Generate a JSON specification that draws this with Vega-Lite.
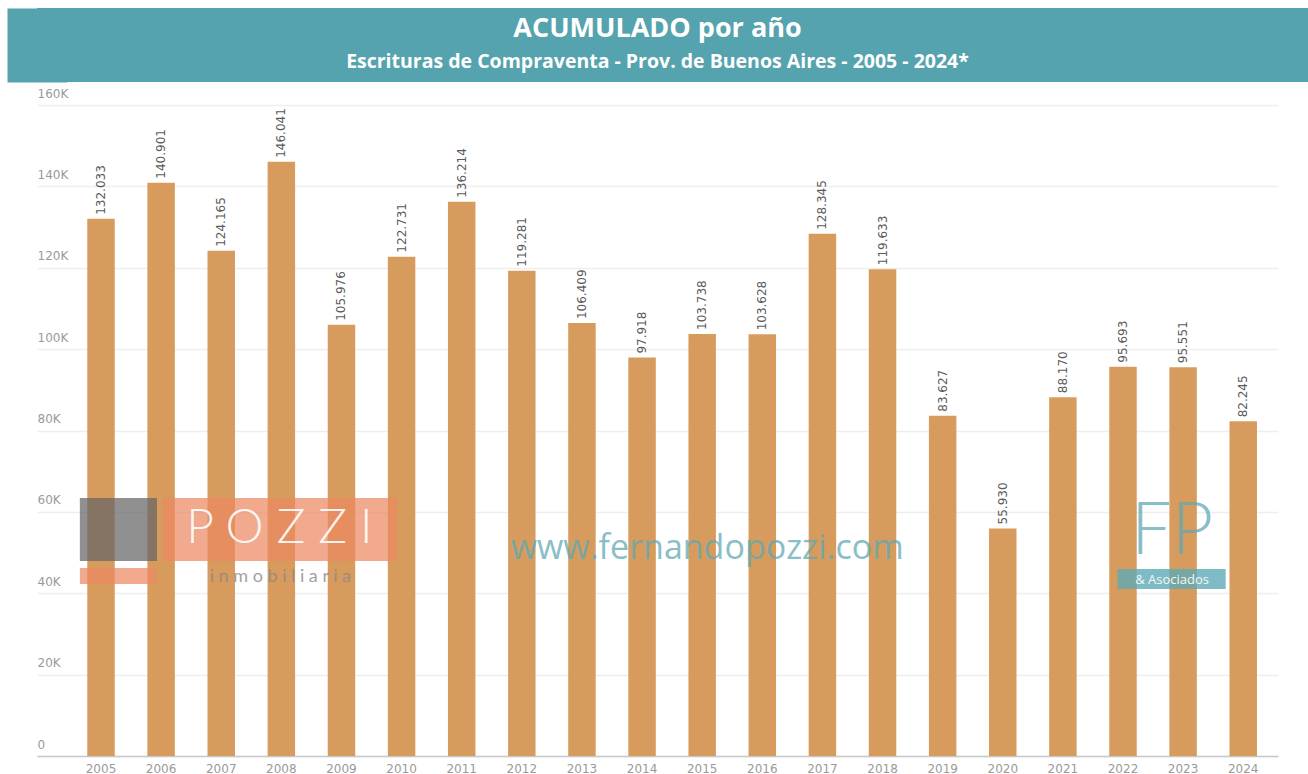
{
  "$schema": "https://vega.github.io/schema/vega-lite/v6.json",
  "padding": {"left": 7, "top": 8, "right": 0, "bottom": 0},
  "background": "white",
  "spacing": 5,
  "config": {
    "view": {"stroke": null},
    "locale": {"number": {"decimal": ",", "thousands": ".", "grouping": [3], "currency": ["$", ""]}}
  },
  "datasets": {
    "escrituras": [
      {"year": "2005", "value": 132033},
      {"year": "2006", "value": 140901},
      {"year": "2007", "value": 124165},
      {"year": "2008", "value": 146041},
      {"year": "2009", "value": 105976},
      {"year": "2010", "value": 122731},
      {"year": "2011", "value": 136214},
      {"year": "2012", "value": 119281},
      {"year": "2013", "value": 106409},
      {"year": "2014", "value": 97918},
      {"year": "2015", "value": 103738},
      {"year": "2016", "value": 103628},
      {"year": "2017", "value": 128345},
      {"year": "2018", "value": 119633},
      {"year": "2019", "value": 83627},
      {"year": "2020", "value": 55930},
      {"year": "2021", "value": 88170},
      {"year": "2022", "value": 95693},
      {"year": "2023", "value": 95551},
      {"year": "2024", "value": 82245}
    ]
  },
  "vconcat": [
    {
      "width": 1271,
      "height": 74,
      "data": {"values": [{"a": 0, "b": 1}]},
      "mark": {"type": "rect", "color": "#55a3ae"},
      "encoding": {
        "y": {
          "field": "a",
          "type": "quantitative",
          "scale": {"domain": [0, 1]},
          "axis": {"title": null, "labels": false, "ticks": false, "grid": false, "domain": true, "domainColor": "#55a3ae", "domainWidth": 60}
        },
        "y2": {"field": "b"}
      },
      "title": {
        "text": "ACUMULADO por año",
        "subtitle": "Escrituras de Compraventa - Prov. de Buenos Aires - 2005 - 2024*",
        "anchor": "middle",
        "frame": "group",
        "dx": -15,
        "offset": -64,
        "font": "Open Sans",
        "fontSize": 27,
        "fontWeight": "bold",
        "color": "white",
        "subtitleFont": "Open Sans",
        "subtitleFontSize": 19.5,
        "subtitleFontWeight": "bold",
        "subtitleColor": "white",
        "subtitlePadding": 10
      }
    },
    {
      "width": 1241,
      "height": 651,
      "layer": [
        {
          "data": {"name": "escrituras"},
          "mark": {"type": "bar", "color": "#d79c5d"},
          "encoding": {
            "x": {
              "field": "year",
              "type": "ordinal",
              "scale": {"type": "band", "paddingInner": 0.543, "paddingOuter": 0.593, "align": 0.705},
              "axis": {
                "title": null,
                "labelAngle": 0,
                "ticks": false,
                "tickSize": 0,
                "labelPadding": 7,
                "labelFont": "DejaVu Sans",
                "labelFontSize": 12,
                "labelColor": "#9a9a9a",
                "domainColor": "#c8c8c8",
                "domainWidth": 1.5,
                "grid": false
              }
            },
            "y": {
              "field": "value",
              "type": "quantitative",
              "scale": {"domain": [0, 160000], "nice": false},
              "axis": {
                "title": null,
                "values": [0, 20000, 40000, 60000, 80000, 100000, 120000, 140000, 160000],
                "labelExpr": "datum.value === 0 ? '0' : (datum.value / 1000) + 'K'",
                "offset": 30,
                "domain": true,
                "domainOpacity": 0,
                "ticks": false,
                "tickSize": 0,
                "labelAlign": "left",
                "labelBaseline": "bottom",
                "labelPadding": -30,
                "labelOffset": -5,
                "labelFont": "DejaVu Sans",
                "labelFontSize": 12,
                "labelColor": "#9a9a9a",
                "grid": true,
                "gridColor": "#eeeeee",
                "gridWidth": 1.5
              }
            }
          }
        },
        {
          "data": {"name": "escrituras"},
          "mark": {"type": "text", "angle": 270, "align": "left", "baseline": "middle", "dx": 4, "font": "DejaVu Sans", "fontSize": 12, "color": "#5a5a5a"},
          "encoding": {
            "x": {"field": "year", "type": "ordinal"},
            "y": {"field": "value", "type": "quantitative"},
            "text": {"field": "value", "type": "quantitative", "format": ",d"}
          }
        },
        {
          "data": {"values": [{"t": "logo"}]},
          "mark": {"type": "rect", "color": "#656565", "opacity": 0.72},
          "encoding": {
            "x": {"datum": "2005", "type": "ordinal", "bandPosition": -0.27},
            "x2": {"datum": "2006", "bandPosition": 0.35},
            "y": {"datum": 63400, "type": "quantitative"},
            "y2": {"datum": 47900}
          }
        },
        {
          "data": {"values": [{"t": "logo"}]},
          "mark": {"type": "rect", "color": "#ed8963", "opacity": 0.72},
          "encoding": {
            "x": {"datum": "2006", "type": "ordinal", "bandPosition": 0.57},
            "x2": {"datum": "2010", "bandPosition": 0.33},
            "y": {"datum": 63400, "type": "quantitative"},
            "y2": {"datum": 47900}
          }
        },
        {
          "data": {"values": [{"t": "logo"}]},
          "mark": {"type": "rect", "color": "#ed8963", "opacity": 0.72},
          "encoding": {
            "x": {"datum": "2005", "type": "ordinal", "bandPosition": -0.27},
            "x2": {"datum": "2006", "bandPosition": 0.35},
            "y": {"datum": 46200, "type": "quantitative"},
            "y2": {"datum": 42300}
          }
        },
        {
          "data": {"values": [{"t": "P O Z Z I"}]},
          "mark": {"type": "text", "font": "Lato", "fontWeight": 300, "fontSize": 48, "color": "white", "opacity": 0.9, "baseline": "middle", "align": "center", "dx": -2},
          "encoding": {
            "x": {"datum": "2008", "type": "ordinal"},
            "y": {"datum": 55800, "type": "quantitative"},
            "text": {"field": "t"}
          }
        },
        {
          "data": {"values": [{"t": "i n m o b i l i a r i a"}]},
          "mark": {"type": "text", "font": "Lato", "fontSize": 18, "color": "#8a8a8a", "opacity": 0.8, "baseline": "middle", "align": "center", "dx": -1},
          "encoding": {
            "x": {"datum": "2008", "type": "ordinal"},
            "y": {"datum": 44100, "type": "quantitative"},
            "text": {"field": "t"}
          }
        },
        {
          "data": {"values": [{"t": "www.fernandopozzi.com"}]},
          "mark": {"type": "text", "font": "Open Sans", "fontSize": 34, "color": "#5fa9b5", "opacity": 0.75, "baseline": "middle", "align": "center", "dx": 5},
          "encoding": {
            "x": {"datum": "2015", "type": "ordinal"},
            "y": {"datum": 50900, "type": "quantitative"},
            "text": {"field": "t"}
          }
        },
        {
          "data": {"values": [{"t": "FP"}]},
          "mark": {"type": "text", "font": "Lato", "fontWeight": 300, "fontSize": 72, "color": "#5fa9b5", "opacity": 0.75, "baseline": "alphabetic", "align": "center", "dx": -11},
          "encoding": {
            "x": {"datum": "2023", "type": "ordinal"},
            "y": {"datum": 49600, "type": "quantitative"},
            "text": {"field": "t"}
          }
        },
        {
          "data": {"values": [{"t": "logo"}]},
          "mark": {"type": "rect", "color": "#5faab5", "opacity": 0.8},
          "encoding": {
            "x": {"datum": "2022", "type": "ordinal", "bandPosition": 0.3},
            "x2": {"datum": "2024", "bandPosition": -0.14},
            "y": {"datum": 45970, "type": "quantitative"},
            "y2": {"datum": 41050}
          }
        },
        {
          "data": {"values": [{"t": "& Asociados"}]},
          "mark": {"type": "text", "font": "Open Sans", "fontSize": 13, "color": "white", "opacity": 0.9, "baseline": "middle", "align": "center", "dx": -11},
          "encoding": {
            "x": {"datum": "2023", "type": "ordinal"},
            "y": {"datum": 43300, "type": "quantitative"},
            "text": {"field": "t"}
          }
        }
      ]
    }
  ]
}
